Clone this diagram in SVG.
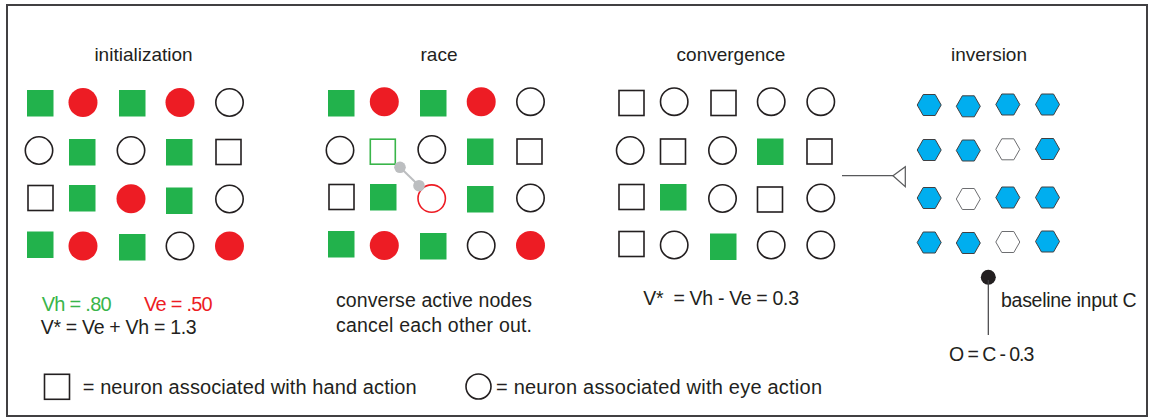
<svg xmlns="http://www.w3.org/2000/svg" xmlns:xlink="http://www.w3.org/1999/xlink" width="1155" height="418" viewBox="0 0 1155 418">
<defs>
<style>
text{font-family:"Liberation Sans",Arial,sans-serif;fill:#231f20}
.title{font-size:19px;text-anchor:middle}
.body{font-size:19.5px}
.leg{font-size:20px}
.gs{fill:#22b24c}
.rc{fill:#ed1c24}
.os,.oc{fill:#fff;stroke:#231f20;stroke-width:1.6}
.gos{fill:#fff;stroke:#39b54a;stroke-width:1.6}
.roc{fill:#fff;stroke:#ed1c24;stroke-width:1.6}
.hb{fill:#00aeef;stroke:#414042;stroke-width:1}
.hw{fill:#fff;stroke:#6d6e71;stroke-width:1}
.conn{stroke:#58595b;stroke-width:1.2;fill:none}
</style>
<polygon id="hex" points="-12,0 -6,-10.5 6,-10.5 12,0 6,10.5 -6,10.5"/>
</defs>
<rect x="0" y="0" width="1155" height="418" fill="#fff"/>
<rect id="frame" x="7" y="5" width="1140" height="411" fill="#fff" stroke="#414042" stroke-width="2"/>

<!-- Titles -->
<text class="title" x="143.5" y="61">initialization</text>
<text class="title" x="439" y="61">race</text>
<text class="title" x="731" y="61">convergence</text>
<text class="title" x="989" y="61">inversion</text>

<!-- Initialization panel -->
<g id="init">
<g id="init-r1c1"><rect class="gs" x="27" y="90" width="26.5" height="26.5"/></g>
<g id="init-r1c2"><circle class="rc" cx="83" cy="102.5" r="14.5"/></g>
<g id="init-r1c3"><rect class="gs" x="119" y="90" width="26.5" height="26.5"/></g>
<g id="init-r1c4"><circle class="rc" cx="180" cy="102.5" r="14.5"/></g>
<g id="init-r1c5"><circle class="oc" cx="229.5" cy="102.5" r="13.7"/></g>

<g id="init-r2c1"><circle class="oc" cx="39" cy="150.5" r="13.7"/></g>
<g id="init-r2c2"><rect class="gs" x="69" y="139" width="26.5" height="26.5"/></g>
<g id="init-r2c3"><circle class="oc" cx="131" cy="150.5" r="13.7"/></g>
<g id="init-r2c4"><rect class="gs" x="166" y="139" width="26.5" height="26.5"/></g>
<g id="init-r2c5"><rect class="os" x="216" y="139.5" width="25" height="25"/></g>

<g id="init-r3c1"><rect class="os" x="28" y="185.5" width="25" height="25"/></g>
<g id="init-r3c2"><rect class="gs" x="69" y="185" width="26.5" height="26.5"/></g>
<g id="init-r3c3"><circle class="rc" cx="131" cy="198.8" r="14.5"/></g>
<g id="init-r3c4"><rect class="gs" x="166" y="187.5" width="26.5" height="26.5"/></g>
<g id="init-r3c5"><circle class="oc" cx="229.5" cy="199" r="13.7"/></g>

<g id="init-r4c1"><rect class="gs" x="27" y="231.5" width="26.5" height="26.5"/></g>
<g id="init-r4c2"><circle class="rc" cx="83" cy="246" r="14.5"/></g>
<g id="init-r4c3"><rect class="gs" x="119" y="234" width="26.5" height="26.5"/></g>
<g id="init-r4c4"><circle class="oc" cx="180" cy="246" r="13.7"/></g>
<g id="init-r4c5"><circle class="rc" cx="229.5" cy="246" r="14.5"/></g>
</g>

<!-- Race panel -->
<g id="race">
<g id="race-r1c1"><rect class="gs" x="328" y="90" width="26.5" height="26.5"/></g>
<g id="race-r1c2"><circle class="rc" cx="384.3" cy="101.7" r="14.5"/></g>
<g id="race-r1c3"><rect class="gs" x="420" y="90" width="26.5" height="26.5"/></g>
<g id="race-r1c4"><circle class="rc" cx="481.2" cy="101.7" r="14.5"/></g>
<g id="race-r1c5"><circle class="oc" cx="530.5" cy="101.7" r="13.7"/></g>

<g id="race-r2c1"><circle class="oc" cx="340" cy="150.2" r="13.7"/></g>
<g id="race-r2c2"><rect class="gos" x="370.3" y="139.2" width="25" height="25"/></g>
<g id="race-r2c3"><circle class="oc" cx="431.8" cy="149.5" r="13.7"/></g>
<g id="race-r2c4"><rect class="gs" x="467" y="138.5" width="26.5" height="26.5"/></g>
<g id="race-r2c5"><rect class="os" x="517" y="139" width="25" height="25"/></g>

<g id="race-r3c1"><rect class="os" x="329" y="184.5" width="25" height="25"/></g>
<g id="race-r3c2"><rect class="gs" x="370" y="184" width="26.5" height="26.5"/></g>
<g id="race-r3c3"><circle class="roc" cx="431.7" cy="198.6" r="13.7"/></g>
<g id="race-r3c4"><rect class="gs" x="467" y="186" width="26.5" height="26.5"/></g>
<g id="race-r3c5"><circle class="oc" cx="530.5" cy="198" r="13.7"/></g>

<g id="race-r4c1"><rect class="gs" x="328" y="231" width="26.5" height="26.5"/></g>
<g id="race-r4c2"><circle class="rc" cx="384.3" cy="245.5" r="14.5"/></g>
<g id="race-r4c3"><rect class="gs" x="420" y="233" width="26.5" height="26.5"/></g>
<g id="race-r4c4"><circle class="oc" cx="481.2" cy="245.5" r="13.7"/></g>
<g id="race-r4c5"><circle class="rc" cx="530.5" cy="245.5" r="14.5"/></g>
</g>

<!-- Convergence panel -->
<g id="conv">
<g id="conv-r1c1"><rect class="os" x="619" y="90.5" width="25" height="25"/></g>
<g id="conv-r1c2"><circle class="oc" cx="674.2" cy="101.7" r="13.7"/></g>
<g id="conv-r1c3"><rect class="os" x="711" y="90.5" width="25" height="25"/></g>
<g id="conv-r1c4"><circle class="oc" cx="771.2" cy="101.7" r="13.7"/></g>
<g id="conv-r1c5"><circle class="oc" cx="820.8" cy="101.7" r="13.7"/></g>

<g id="conv-r2c1"><circle class="oc" cx="630.2" cy="150.5" r="13.7"/></g>
<g id="conv-r2c2"><rect class="os" x="660.5" y="139" width="25" height="25"/></g>
<g id="conv-r2c3"><circle class="oc" cx="722.5" cy="150.5" r="13.7"/></g>
<g id="conv-r2c4"><rect class="gs" x="757" y="138.5" width="26.5" height="26.5"/></g>
<g id="conv-r2c5"><rect class="os" x="807" y="139" width="25" height="25"/></g>

<g id="conv-r3c1"><rect class="os" x="619" y="184.5" width="25" height="25"/></g>
<g id="conv-r3c2"><rect class="gs" x="660" y="184" width="26.5" height="26.5"/></g>
<g id="conv-r3c3"><circle class="oc" cx="722.5" cy="198.5" r="13.7"/></g>
<g id="conv-r3c4"><rect class="os" x="757.5" y="187" width="25" height="25"/></g>
<g id="conv-r3c5"><circle class="oc" cx="820.8" cy="198" r="13.7"/></g>

<g id="conv-r4c1"><rect class="os" x="619" y="231.5" width="25" height="25"/></g>
<g id="conv-r4c2"><circle class="oc" cx="674.2" cy="245" r="13.7"/></g>
<g id="conv-r4c3"><rect class="gs" x="710" y="233.5" width="26.5" height="26.5"/></g>
<g id="conv-r4c4"><circle class="oc" cx="771.2" cy="245" r="13.7"/></g>
<g id="conv-r4c5"><circle class="oc" cx="820.8" cy="245" r="13.7"/></g>
</g>

<!-- Inversion panel -->
<g id="inv">
<g id="inv-r1c1"><use xlink:href="#hex" class="hb" x="929.2" y="105"/></g>
<g id="inv-r1c2"><use xlink:href="#hex" class="hb" x="968.3" y="106.3"/></g>
<g id="inv-r1c3"><use xlink:href="#hex" class="hb" x="1007.8" y="104.5"/></g>
<g id="inv-r1c4"><use xlink:href="#hex" class="hb" x="1047.5" y="104.5"/></g>

<g id="inv-r2c1"><use xlink:href="#hex" class="hb" x="929.2" y="150"/></g>
<g id="inv-r2c2"><use xlink:href="#hex" class="hb" x="968.3" y="150.5"/></g>
<g id="inv-r2c3"><use xlink:href="#hex" class="hw" x="1007.8" y="149.3"/></g>
<g id="inv-r2c4"><use xlink:href="#hex" class="hb" x="1047.5" y="149"/></g>

<g id="inv-r3c1"><use xlink:href="#hex" class="hb" x="929.2" y="198"/></g>
<g id="inv-r3c2"><use xlink:href="#hex" class="hw" x="968.3" y="199"/></g>
<g id="inv-r3c3"><use xlink:href="#hex" class="hb" x="1007.8" y="197.5"/></g>
<g id="inv-r3c4"><use xlink:href="#hex" class="hb" x="1047.5" y="197.5"/></g>

<g id="inv-r4c1"><use xlink:href="#hex" class="hb" x="929.2" y="242.5"/></g>
<g id="inv-r4c2"><use xlink:href="#hex" class="hb" x="968.3" y="243"/></g>
<g id="inv-r4c3"><use xlink:href="#hex" class="hw" x="1007.8" y="242"/></g>
<g id="inv-r4c4"><use xlink:href="#hex" class="hb" x="1047.5" y="241.5"/></g>
</g>

<!-- Baseline input node -->
<g id="baseline-input"><circle cx="988.3" cy="277.3" r="7.5" fill="#231f20"/></g>

<!-- Connectors -->
<g id="connectors">
<line x1="400" y1="167.3" x2="419" y2="185.7" stroke="#bcbec0" stroke-width="2"/>
<circle cx="400" cy="167.3" r="5.8" fill="#bcbec0"/>
<circle cx="419" cy="185.7" r="5.8" fill="#bcbec0"/>
<line class="conn" x1="842" y1="175.7" x2="893" y2="175.7"/>
<polygon class="conn" points="893,175.7 905.3,166.7 905.3,186.7"/>
<line x1="988.3" y1="280" x2="988.3" y2="335" stroke="#414042" stroke-width="1.2"/>
</g>

<!-- Formulas -->
<text class="body" x="41.7" y="311" style="fill:#39b54a;font-size:20px" textLength="70">Vh = .80</text>
<text class="body" x="144" y="311" style="fill:#ed1c24;font-size:20px" textLength="68.7">Ve = .50</text>
<text class="body" x="40.7" y="334" textLength="156">V* = Ve + Vh = 1.3</text>
<text class="body" x="336" y="307" textLength="196">converse active nodes</text>
<text class="body" x="336" y="332" textLength="196">cancel each other out.</text>
<text class="body" x="643.3" y="305" xml:space="preserve" textLength="155.7">V*  = Vh - Ve = 0.3</text>
<text class="body" x="1001" y="307" textLength="135.7">baseline input C</text>
<text class="body" x="949" y="361" textLength="85.3">O = C - 0.3</text>

<!-- Legend -->
<g id="legend-hand">
<rect class="os" x="44.5" y="374.3" width="25" height="25"/>
<text class="leg" x="82.7" y="394" textLength="334">= neuron associated with hand action</text>
</g>
<g id="legend-eye">
<circle class="oc" cx="478.5" cy="386.5" r="12.5"/>
<text class="leg" x="496" y="394" textLength="326">= neuron associated with eye action</text>
</g>
</svg>
